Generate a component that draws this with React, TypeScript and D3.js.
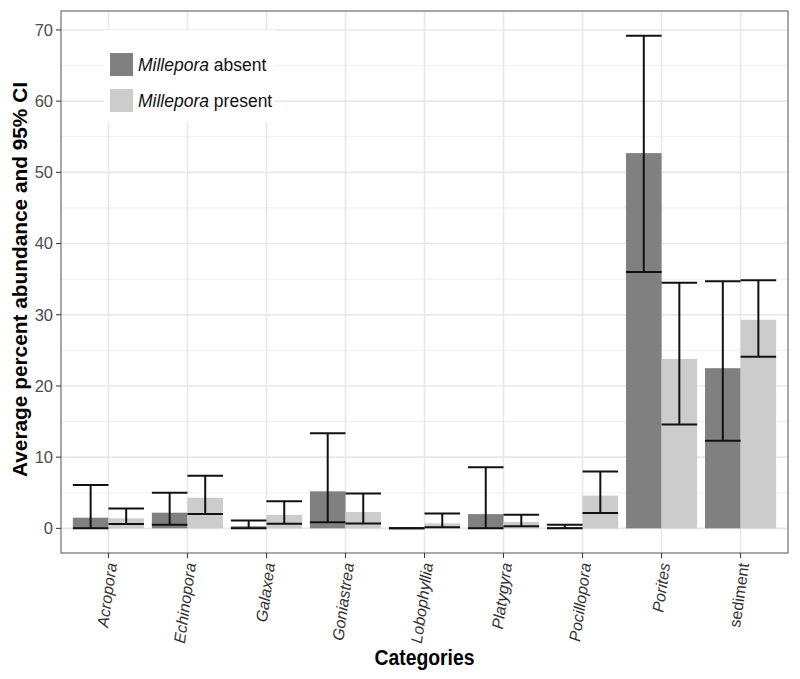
import React from "react";
import * as d3 from "d3";

const categories = ["Acropora", "Echinopora", "Galaxea", "Goniastrea", "Lobophyllia", "Platygyra", "Pocillopora", "Porites", "sediment"];
const italicCats = [true, true, true, true, true, true, true, true, false];
const groups = ["absent", "present"];
const absentMean = [1.5, 2.2, 0.3, 5.2, 0, 2.0, 0.2, 52.7, 22.5];
const absentLower = [0, 0.5, 0, 0.85, 0, 0, 0, 36.0, 12.3];
const absentUpper = [6.1, 5.0, 1.1, 13.35, 0, 8.6, 0.5, 69.2, 34.7];
const presentMean = [1.4, 4.3, 1.9, 2.3, 0.7, 0.9, 4.6, 23.8, 29.3];
const presentLower = [0.6, 2.0, 0.65, 0.7, 0.15, 0.3, 2.15, 14.6, 24.1];
const presentUpper = [2.8, 7.4, 3.8, 4.9, 2.1, 1.9, 8.0, 34.5, 34.85];
const yTicks = [0, 10, 20, 30, 40, 50, 60, 70];
const yMinor = [5, 15, 25, 35, 45, 55, 65];

const W = 800, H = 679;
const panel = { left: 61, right: 788, top: 11, bottom: 553 };
const colors: Record<string, string> = { absent: "#808080", present: "#cccccc" };
const FONT = "'Liberation Sans', Arial, Helvetica, sans-serif";

export default function App() {
  const x = d3.scaleBand<string>().domain(categories).range([panel.left, panel.right]).paddingInner(0.1).paddingOuter(0.15);
  const xg = d3.scaleBand<string>().domain(groups).range([0, x.bandwidth()]).padding(0);
  const yMax = 69.2;
  const yMinV = 0;
  const ex = (yMax - yMinV) * 0.05;
  const y = d3.scaleLinear().domain([yMinV - ex, yMax + ex]).range([panel.bottom, panel.top]);

  const rows = categories.map((c, i) => ({
    c,
    vals: [
      { g: "absent", m: absentMean[i], lo: absentLower[i], hi: absentUpper[i] },
      { g: "present", m: presentMean[i], lo: presentLower[i], hi: presentUpper[i] },
    ],
  }));

  const cx = (c: string) => (x(c) as number) + x.bandwidth() / 2;

  return (
    <svg width={W} height={H} style={{ position: "absolute", left: 0, top: 0, fontFamily: FONT }}>
      <rect x={0} y={0} width={W} height={H} fill="#ffffff" />
      <rect x={panel.left} y={panel.top} width={panel.right - panel.left} height={panel.bottom - panel.top} fill="#ffffff" />
      {yMinor.map((t) => (
        <line key={"mn" + t} x1={panel.left} x2={panel.right} y1={y(t)} y2={y(t)} stroke="#f0f0f0" strokeWidth={1} />
      ))}
      {yTicks.map((t) => (
        <line key={"mj" + t} x1={panel.left} x2={panel.right} y1={y(t)} y2={y(t)} stroke="#e8e8e8" strokeWidth={1.6} />
      ))}
      {categories.map((c) => (
        <line key={"vg" + c} x1={cx(c)} x2={cx(c)} y1={panel.top} y2={panel.bottom} stroke="#e8e8e8" strokeWidth={1.6} />
      ))}
      {/* legend background */}
      <rect x={104} y={30} width={171} height={92} fill="#ffffff" />
      <rect x={110} y={53} width={23} height={23} fill={colors.absent} />
      <rect x={110} y={89} width={23} height={23} fill={colors.present} />
      <text x={138} y={71} fontSize={17.5} fill="#111">
        <tspan fontStyle="italic">Millepora</tspan> absent
      </text>
      <text x={138} y={107} fontSize={17.5} fill="#111">
        <tspan fontStyle="italic">Millepora</tspan> present
      </text>
      {/* bars */}
      {rows.map((r) =>
        r.vals.map((v) => {
          const bx = (x(r.c) as number) + (xg(v.g) as number);
          const y0 = y(0);
          const y1 = y(v.m);
          return (
            <rect key={r.c + v.g} x={bx} y={Math.min(y0, y1)} width={xg.bandwidth()} height={Math.abs(y0 - y1)} fill={colors[v.g]} />
          );
        })
      )}
      {/* error bars */}
      {rows.map((r) =>
        r.vals.map((v) => {
          const bx = (x(r.c) as number) + (xg(v.g) as number);
          const mx = bx + xg.bandwidth() / 2;
          return (
            <g key={"e" + r.c + v.g} stroke="#111" strokeWidth={2} fill="none">
              <line x1={mx} x2={mx} y1={y(v.lo)} y2={y(v.hi)} />
              <line x1={bx} x2={bx + xg.bandwidth()} y1={y(v.lo)} y2={y(v.lo)} />
              <line x1={bx} x2={bx + xg.bandwidth()} y1={y(v.hi)} y2={y(v.hi)} />
            </g>
          );
        })
      )}
      <rect x={panel.left} y={panel.top} width={panel.right - panel.left} height={panel.bottom - panel.top} fill="none" stroke="#6e6e6e" strokeWidth={1.2} />
      {/* y axis */}
      {yTicks.map((t) => (
        <g key={"yt" + t}>
          <line x1={panel.left - 5} x2={panel.left} y1={y(t)} y2={y(t)} stroke="#333" strokeWidth={1} />
          <text x={panel.left - 8} y={y(t)} dy="0.36em" textAnchor="end" fontSize={16.5} fill="#4d4d4d">
            {t}
          </text>
        </g>
      ))}
      {/* x axis */}
      {categories.map((c, i) => (
        <g key={"xt" + c}>
          <line x1={cx(c)} x2={cx(c)} y1={panel.bottom} y2={panel.bottom + 5} stroke="#333" strokeWidth={1} />
          <text
            transform={`translate(${cx(c) + 3},${panel.bottom + 10}) rotate(-82)`}
            textAnchor="end"
            dy="0.35em"
            fontSize={16}
            fontStyle={italicCats[i] ? "italic" : "normal"}
            fill="#333"
          >
            {c}
          </text>
        </g>
      ))}
      <text x={(panel.left + panel.right) / 2} y={665} textAnchor="middle" fontSize={22} fontWeight="bold" fill="#000" textLength={100} lengthAdjust="spacingAndGlyphs">
        Categories
      </text>
      <text transform={`translate(27,${(82 + 477) / 2}) rotate(-90)`} textAnchor="middle" fontSize={21} fontWeight="bold" fill="#000" textLength={395} lengthAdjust="spacingAndGlyphs">
        Average percent abundance and 95% CI
      </text>
    </svg>
  );
}
